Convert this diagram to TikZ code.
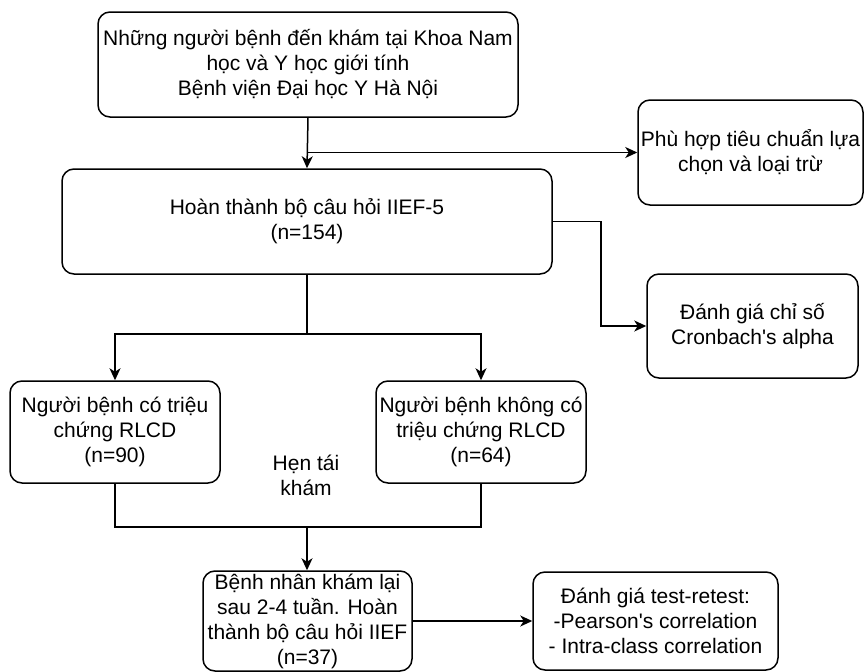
\documentclass[tikz,border=0pt]{standalone}
\usepackage{fontspec}
\setmainfont{Liberation Sans}
\usetikzlibrary{arrows.meta}
\tikzset{>={Stealth[length=12pt,width=11pt,inset=3.5pt]}}
\tikzset{box/.style={draw=black, line width=1.5pt, rounded corners=12pt, align=center, inner sep=2pt, font=\fontsize{21}{25}\selectfont}}
\tikzset{plain/.style={align=center, inner sep=0pt, font=\fontsize{21}{25}\selectfont}}

\begin{document}
\begin{tikzpicture}[x=1pt, y=-1pt, line width=1.5pt]

 \useasboundingbox (0,0) rectangle (865,672);

   \node[box, minimum width=420pt, minimum height=105pt] (top) at (308,64.5) {Những người bệnh đến khám tại Khoa Nam\\học và Y học giới tính\\Bệnh viện Đại học Y Hà Nội};
   \node[box, minimum width=225pt, minimum height=105pt] (incl) at (750.5,152.5) {Phù hợp tiêu chuẩn lựa\\chọn và loại trừ};
   \node[box, minimum width=490pt, minimum height=105pt] (iief) at (307,221.5) {Hoàn thành bộ câu hỏi IIEF-5\\(n=154)};
   \node[box, minimum width=211pt, minimum height=104pt] (cron) at (752.5,326) {Đánh giá chỉ số\\Cronbach\textquotesingle s alpha};
   \node[box, minimum width=210pt, minimum height=102pt] (sym) at (115,432) {Người bệnh có triệu\\chứng RLCD\\(n=90)};
   \node[box, minimum width=210pt, minimum height=102pt] (nosym) at (481,432) {Người bệnh không có\\triệu chứng RLCD\\(n=64)};
   \node[plain] (appt) at (306,475) {Hẹn tái\\khám};
   \node[box, minimum width=209pt, minimum height=100pt] (retest) at (307.5,621) {Bệnh nhân khám lại\\sau 2-4 tuần. Hoàn\\thành bộ câu hỏi IIEF\\(n=37)};
   \node[box, minimum width=245pt, minimum height=98pt] (test) at (655.5,621) {Đánh giá test-retest:\\-Pearson\textquotesingle s correlation\\- Intra-class correlation};

   \coordinate (fork) at (top.south |- incl.west);
   \coordinate (split) at (307,334);
   \coordinate (merge) at (307,527);

   \draw[->] (top.south) -- (iief.north);
   \draw[->] (fork) -- (incl.west);
   \draw[->] (iief.east) -- ++(48,0) |- (cron.west);

   \draw (iief.south) -- (split);
   \draw[->] (split) -| (sym.north);
   \draw[->] (split) -| (nosym.north);

   \draw (sym.south) |- (merge) -| (nosym.south);
   \draw[->] (merge) -- (merge |- retest.north);
   \draw[->] (retest.east) -- (test.west);

\end{tikzpicture}
\end{document}
